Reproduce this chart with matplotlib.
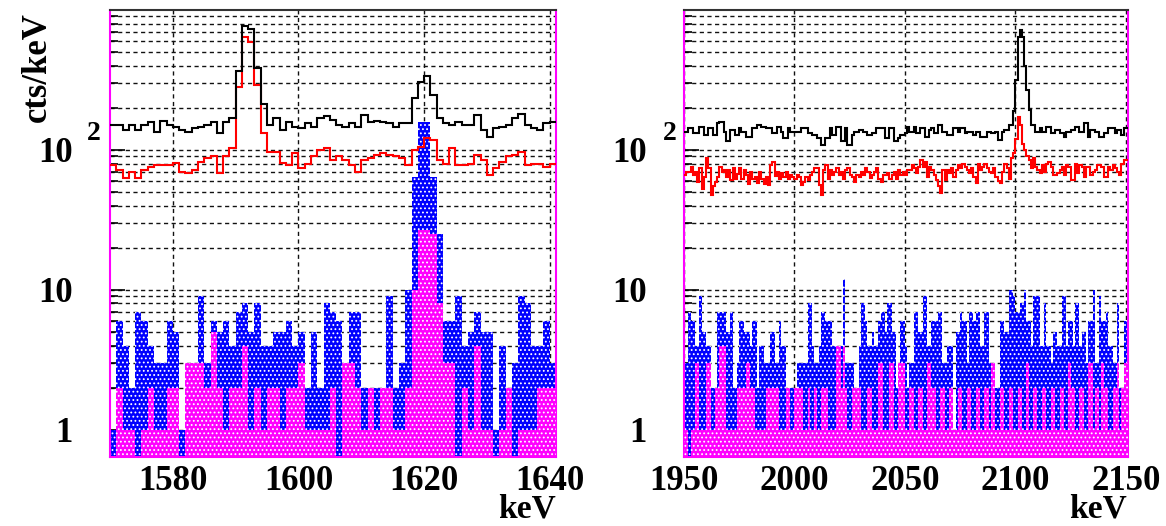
import numpy as np
import matplotlib
matplotlib.use("Agg")
import matplotlib.pyplot as plt
from matplotlib.ticker import LogLocator, NullFormatter, FixedLocator

# ---- left panel data (1 keV bins, 1570-1641 keV) ----
left_edges = np.arange(1570, 1642, 1)
left_black = [151, 151, 139, 151, 139, 151, 159, 135, 162, 151, 147, 139, 135, 143, 147, 151, 159, 132, 159, 168,
              369, 769, 728, 383, 213, 151, 168, 139, 159, 147, 143, 155, 147, 168, 175, 165, 151, 147, 155, 147,
              178, 159, 162, 159, 155, 147, 155, 155, 234, 308, 338, 247, 168, 155, 151, 159, 151, 151, 178, 139,
              124, 143, 147, 151, 168, 181, 151, 143, 139, 155, 159]
left_red = [78, 72, 63, 70, 63, 72, 76, 78, 78, 78, 81, 70, 68, 72, 82, 87, 90, 68, 90, 103,
            283, 638, 594, 291, 132, 97, 97, 81, 78, 95, 74, 80, 90, 100, 103, 85, 90, 85, 78, 70,
            85, 87, 92, 95, 92, 90, 87, 78, 100, 105, 121, 118, 85, 80, 103, 78, 78, 80, 92, 85,
            66, 74, 82, 90, 92, 97, 78, 80, 80, 76, 80]
left_blue = [1, 6, 4, 2, 7, 6, 4, 3, 3, 6, 5, 1, 3, 3, 9, 3, 6, 5, 6, 4,
             7, 8, 5, 8, 4, 4, 5, 5, 6, 4, 5, 2, 5, 2, 8, 7, 6, 3, 7, 7,
             2, 2, 2, 2, 9, 2, 3, 10, 64, 159, 159, 64, 25, 6, 6, 9, 4, 5, 7, 5,
             5, 1, 4, 2, 3, 9, 8, 4, 4, 6, 3]
left_pink = [0, 2, 1, 1, 0, 1, 2, 1, 1, 2, 2, 0, 3, 3, 3, 2, 5, 2, 1, 2,
             2, 4, 1, 2, 1, 2, 2, 1, 2, 2, 3, 1, 1, 1, 1, 2, 0, 3, 3, 2,
             1, 2, 1, 2, 2, 1, 1, 2, 10, 27, 27, 25, 8, 3, 3, 0, 2, 1, 4, 1,
             1, 0, 1, 2, 0, 1, 1, 1, 2, 2, 2]

# ---- right panel data (1 keV bins, 1950-2151 keV) ----
right_edges = np.arange(1950, 2152, 1)
right_black = [135, 135, 143, 143, 132, 132, 132, 147, 147, 128, 128, 143, 143, 128, 128, 155, 159, 159, 135, 115,
               115, 139, 139, 128, 128, 143, 135, 135, 124, 124, 124, 143, 143, 151, 151, 147, 147, 143, 143, 143,
               132, 132, 147, 147, 135, 121, 121, 143, 135, 135, 135, 135, 135, 143, 143, 143, 132, 132, 128, 128,
               121, 121, 109, 109, 121, 121, 143, 128, 128, 147, 147, 115, 115, 143, 109, 109, 128, 135, 135, 139,
               139, 135, 135, 128, 128, 132, 132, 143, 143, 143, 143, 121, 121, 143, 143, 115, 115, 121, 128, 128,
               132, 147, 135, 135, 147, 132, 132, 143, 143, 124, 124, 139, 143, 132, 132, 151, 151, 135, 135, 128,
               128, 128, 143, 143, 135, 143, 143, 132, 135, 135, 135, 128, 135, 135, 124, 124, 124, 135, 135, 132,
               132, 135, 118, 118, 135, 139, 139, 151, 151, 190, 316, 644, 720, 640, 400, 268, 193, 151, 151, 135,
               135, 143, 135, 135, 147, 147, 132, 132, 139, 139, 132, 132, 124, 135, 135, 139, 139, 147, 147, 135,
               135, 155, 155, 124, 139, 139, 135, 135, 124, 124, 132, 132, 143, 143, 143, 132, 139, 139, 128, 143,
               143]
right_red = [66, 70, 70, 76, 66, 70, 59, 74, 53, 64, 87, 74, 48, 55, 59, 64, 76, 70, 72, 64,
             72, 61, 74, 62, 67, 74, 62, 72, 66, 57, 70, 62, 64, 58, 70, 62, 57, 64, 56, 78,
             82, 65, 70, 62, 68, 64, 70, 62, 66, 64, 62, 66, 64, 56, 59, 64, 61, 66, 70, 74,
             74, 56, 48, 72, 78, 62, 72, 66, 70, 74, 66, 70, 62, 72, 74, 66, 64, 59, 66, 64,
             70, 66, 74, 70, 63, 66, 70, 74, 62, 59, 66, 66, 68, 62, 66, 70, 62, 72, 66, 70,
             66, 72, 72, 78, 74, 68, 75, 85, 76, 82, 64, 76, 72, 66, 61, 55, 49, 72, 61, 72,
             68, 74, 64, 72, 78, 74, 80, 76, 72, 68, 74, 64, 58, 80, 72, 76, 80, 74, 70, 68,
             74, 64, 60, 58, 70, 80, 74, 62, 88, 95, 120, 172, 150, 110, 100, 90, 85, 74, 88, 76,
             72, 68, 78, 70, 80, 82, 76, 66, 66, 68, 72, 76, 66, 78, 76, 61, 61, 80, 68, 78,
             76, 64, 76, 76, 66, 70, 72, 78, 78, 76, 64, 64, 76, 72, 78, 74, 70, 66, 80, 85,
             85]
right_blue = [3, 3, 7, 6, 6, 4, 4, 9, 5, 5, 4, 4, 2, 2, 2, 7, 7, 7, 7, 5,
              5, 7, 2, 2, 3, 6, 6, 5, 5, 5, 4, 6, 6, 2, 4, 4, 3, 3, 3, 5,
              5, 3, 3, 6, 4, 4, 2, 2, 2, 2, 2, 3, 3, 3, 3, 3, 8, 8, 4, 3,
              3, 4, 7, 7, 6, 6, 6, 4, 4, 4, 4, 4, 12, 3, 3, 3, 3, 2, 2, 4,
              8, 8, 6, 4, 4, 5, 4, 4, 6, 7, 7, 5, 8, 8, 5, 5, 2, 2, 6, 6,
              4, 2, 3, 3, 7, 7, 5, 5, 9, 9, 4, 4, 6, 6, 6, 7, 7, 3, 3, 4,
              4, 4, 1, 5, 5, 7, 6, 6, 3, 7, 7, 6, 7, 7, 4, 4, 7, 7, 3, 3,
              2, 2, 2, 6, 6, 5, 5, 10, 10, 9, 7, 7, 8, 8, 10, 6, 6, 4, 9, 9,
              9, 4, 4, 8, 4, 4, 3, 5, 5, 4, 4, 9, 9, 4, 6, 6, 4, 8, 8, 4,
              5, 5, 3, 6, 6, 10, 3, 3, 9, 6, 6, 7, 4, 4, 3, 3, 8, 2, 2, 6,
              6]
right_pink = [1, 1, 0, 1, 1, 3, 3, 1, 1, 1, 3, 3, 1, 1, 2, 2, 4, 4, 4, 1,
              1, 1, 1, 1, 2, 2, 2, 2, 3, 3, 2, 2, 1, 1, 1, 1, 1, 2, 2, 2,
              2, 2, 2, 1, 1, 1, 2, 2, 1, 1, 2, 2, 2, 2, 1, 1, 2, 1, 1, 2,
              1, 1, 2, 2, 2, 1, 1, 1, 1, 4, 4, 2, 4, 2, 1, 1, 2, 2, 2, 2,
              1, 1, 1, 2, 2, 1, 1, 1, 3, 3, 1, 1, 1, 3, 3, 1, 1, 3, 3, 3,
              1, 1, 2, 2, 1, 1, 2, 2, 1, 1, 3, 3, 2, 2, 1, 1, 2, 2, 1, 1,
              2, 2, 1, 1, 2, 2, 1, 1, 2, 2, 1, 1, 2, 2, 1, 1, 2, 2, 1, 3,
              3, 1, 1, 2, 2, 1, 1, 2, 2, 1, 1, 2, 2, 1, 1, 3, 1, 1, 2, 2,
              1, 1, 2, 2, 1, 1, 2, 2, 1, 1, 2, 2, 1, 1, 3, 2, 2, 1, 1, 2,
              2, 1, 1, 3, 3, 1, 2, 2, 1, 3, 2, 2, 1, 1, 2, 2, 3, 1, 2, 3,
              3]

left_xticks = [1580, 1600, 1620, 1640]
right_xticks = [1950, 2000, 2050, 2100, 2150]

plt.rcParams["font.family"] = ["Liberation Serif", "DejaVu Serif"]
plt.rcParams["font.weight"] = "bold"
plt.rcParams["hatch.linewidth"] = 0.8

W, H = 1166, 526
fig = plt.figure(figsize=(W / 100, H / 100), dpi=100)

YMIN, YMAX = 0.64, 1000
BASE = 0.3
FS = 25


def draw_panel(rect, edges, black, red, blue, pink, xticks):
    ax = fig.add_axes(rect)
    ax.set_yscale("log")
    blue = np.array(blue, float)
    pink = np.array(pink, float)
    ax.stairs(np.where(blue > 0, blue, BASE), edges, baseline=BASE, fill=True,
              facecolor="#0000ff", edgecolor="white", linewidth=0, hatch="....", zorder=2)
    ax.stairs(np.where(pink > 0, pink, BASE), edges, baseline=BASE, fill=True,
              facecolor="#ff00ff", edgecolor="white", linewidth=0, hatch="....", zorder=3)
    ax.stairs(red, edges, baseline=None, color="#ff0000", linewidth=1.5, zorder=4)
    ax.stairs(black, edges, baseline=None, color="black", linewidth=1.5, zorder=5)

    ax.set_xlim(edges[0], edges[-1])
    ax.set_ylim(YMIN, YMAX)
    ax.set_axisbelow(True)

    ax.xaxis.set_major_locator(FixedLocator(xticks))
    ax.set_xticklabels([str(t) for t in xticks])
    ax.set_yticks([1, 10, 100])
    ax.set_yticklabels(["1", "10", "10"])
    ax.yaxis.set_minor_locator(LogLocator(base=10, subs=np.arange(2, 10)))
    ax.yaxis.set_minor_formatter(NullFormatter())

    ax.tick_params(axis="x", which="both", direction="in", length=0, labelsize=FS, pad=6)
    ax.tick_params(axis="y", which="major", direction="in", length=11, width=1.2,
                   labelsize=FS, pad=27)
    ax.tick_params(axis="y", which="minor", direction="in", length=6, width=1.2)

    ax.grid(axis="x", which="major", color="#111111", linestyle=(0, (3, 2.5)), linewidth=1.0)
    ax.grid(axis="y", which="both", color="#111111", linestyle=(0, (3, 2.5)), linewidth=1.0)

    for side in ["left", "right", "bottom"]:
        ax.spines[side].set_color("#ff00ff")
        ax.spines[side].set_linewidth(1.5)
    ax.spines["top"].set_color("#333333")
    ax.spines["top"].set_linewidth(1.5)
    return ax


left_rect = [110 / W, 1 - 457 / H, 446 / W, 447 / H]
right_rect = [684 / W, 1 - 457 / H, 444 / W, 447 / H]

draw_panel(left_rect, left_edges, left_black, left_red, left_blue, left_pink, left_xticks)
draw_panel(right_rect, right_edges, right_black, right_red, right_blue, right_pink, right_xticks)

# exponent of the 10^2 labels
fig.text(94 / W, 1 - 133 / H, "2", ha="center", va="center", fontsize=20, fontweight="bold")
fig.text(670 / W, 1 - 133 / H, "2", ha="center", va="center", fontsize=20, fontweight="bold")

fig.text(37 / W, 1 - 12 / H, "cts/keV", rotation=90, ha="center", va="top",
         fontsize=FS, fontweight="bold")
fig.text(556 / W, 1 - 518 / H, "keV", ha="right", va="baseline", fontsize=24, fontweight="bold")
fig.text(1127 / W, 1 - 518 / H, "keV", ha="right", va="baseline", fontsize=24, fontweight="bold")

fig.savefig("out.png", dpi=100)
